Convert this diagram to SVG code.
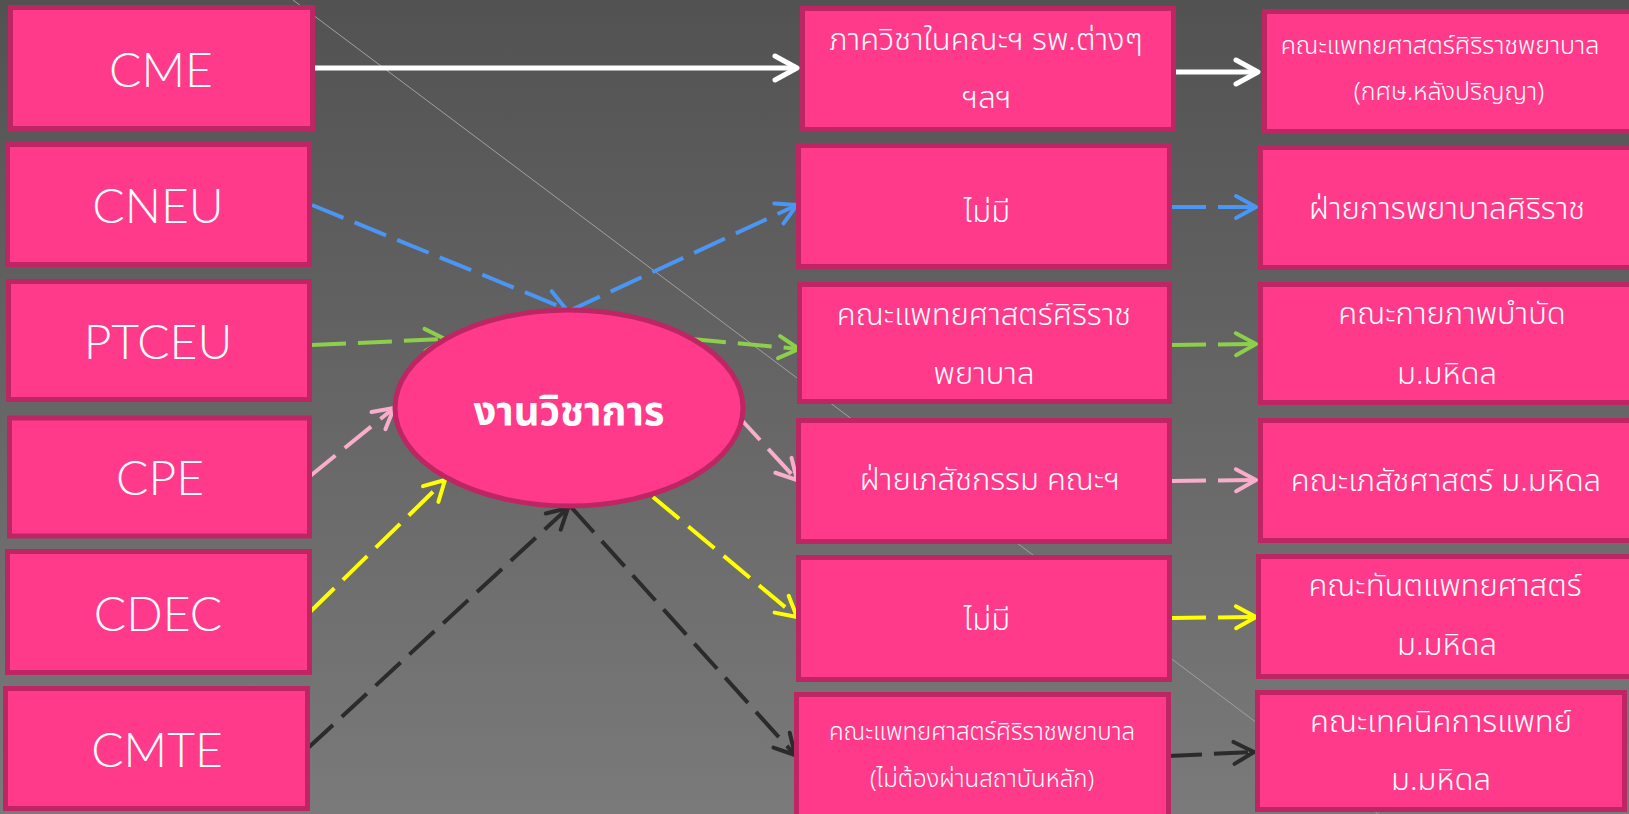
<svg xmlns="http://www.w3.org/2000/svg" width="1629" height="814" viewBox="0 0 1629 814">
<defs>
<linearGradient id="bg" x1="0" y1="0" x2="0" y2="1">
<stop offset="0" stop-color="#525252"/>
<stop offset="1" stop-color="#7a7a7a"/>
</linearGradient>
<marker id="aw" markerUnits="userSpaceOnUse" markerWidth="30" markerHeight="30" refX="0" refY="0" orient="auto" overflow="visible"><path d="M-22,-12 L0,0 L-22,12" fill="none" stroke="#ffffff" stroke-width="5" stroke-linecap="round" stroke-linejoin="round"/></marker>
<marker id="ab" markerUnits="userSpaceOnUse" markerWidth="30" markerHeight="30" refX="0" refY="0" orient="auto" overflow="visible"><path d="M-20,-11 L0,0 L-20,11" fill="none" stroke="#4a96f2" stroke-width="4" stroke-linecap="round" stroke-linejoin="round"/></marker>
<marker id="ag" markerUnits="userSpaceOnUse" markerWidth="30" markerHeight="30" refX="0" refY="0" orient="auto" overflow="visible"><path d="M-20,-11 L0,0 L-20,11" fill="none" stroke="#8dcf4a" stroke-width="4" stroke-linecap="round" stroke-linejoin="round"/></marker>
<marker id="ap" markerUnits="userSpaceOnUse" markerWidth="30" markerHeight="30" refX="0" refY="0" orient="auto" overflow="visible"><path d="M-20,-11 L0,0 L-20,11" fill="none" stroke="#f8aecb" stroke-width="4" stroke-linecap="round" stroke-linejoin="round"/></marker>
<marker id="ay" markerUnits="userSpaceOnUse" markerWidth="30" markerHeight="30" refX="0" refY="0" orient="auto" overflow="visible"><path d="M-20,-11 L0,0 L-20,11" fill="none" stroke="#ffff00" stroke-width="4" stroke-linecap="round" stroke-linejoin="round"/></marker>
<marker id="ak" markerUnits="userSpaceOnUse" markerWidth="30" markerHeight="30" refX="0" refY="0" orient="auto" overflow="visible"><path d="M-20,-11 L0,0 L-20,11" fill="none" stroke="#2b2b2b" stroke-width="4" stroke-linecap="round" stroke-linejoin="round"/></marker>
</defs>
<style>
.box{fill:#ff3a8a;stroke:#bd2662;stroke-width:5}
.en{font-family:Lato,"Open Sans",sans-serif;font-weight:300;font-size:48px;fill:#ffffff;text-anchor:middle}
.th{font-family:"Noto Sans Thai","Noto Sans","Noto Serif Thai",sans-serif;font-weight:300;fill:#ffffff;text-anchor:middle}
.l{font-size:31px}
.s{font-size:25px}
.xs{font-size:24px}
.c{fill:none;stroke-width:4;stroke-dasharray:34 12}
</style>
<rect width="1629" height="814" fill="url(#bg)"/>
<line x1="293" y1="0" x2="1629" y2="1002" stroke="#a0a0a0" stroke-width="1"/>

<g id="connectors">
<path d="M315,68 L797,68" fill="none" stroke="#ffffff" stroke-width="5" marker-end="url(#aw)"/>
<path d="M1176,72 L1258,72" fill="none" stroke="#ffffff" stroke-width="5" marker-end="url(#aw)"/>
<path class="c" d="M312,205 L566,309" stroke="#4a96f2" marker-end="url(#ab)"/>
<path class="c" d="M569,311 L797,205" stroke="#4a96f2" marker-end="url(#ab)"/>
<path class="c" d="M1172,207 L1256,207" stroke="#4a96f2" marker-end="url(#ab)"/>
<path class="c" d="M312,345 L445,339" stroke="#8dcf4a" marker-end="url(#ag)"/>
<path class="c" d="M692,339 L799,349" stroke="#8dcf4a" marker-end="url(#ag)"/>
<path class="c" d="M1172,345 L1256,344" stroke="#8dcf4a" marker-end="url(#ag)"/>
<path class="c" d="M309,477 L394,408" stroke="#f8aecb" marker-end="url(#ap)"/>
<path class="c" d="M737,415 L797,480" stroke="#f8aecb" marker-end="url(#ap)"/>
<path class="c" d="M1172,481 L1256,480" stroke="#f8aecb" marker-end="url(#ap)"/>
<path class="c" d="M310,612 L445,480" stroke="#ffff00" marker-end="url(#ay)"/>
<path class="c" d="M653,497 L797,617" stroke="#ffff00" marker-end="url(#ay)"/>
<path class="c" d="M1172,618 L1256,617" stroke="#ffff00" marker-end="url(#ay)"/>
<path class="c" d="M308,748 L568,508" stroke="#2b2b2b" marker-end="url(#ak)"/>
<path class="c" d="M571,507 L795,755" stroke="#2b2b2b" marker-end="url(#ak)"/>
<path class="c" d="M1168,756 L1254,752" stroke="#2b2b2b" marker-end="url(#ak)"/>
</g>

<g id="n-cme"><rect class="box" x="10.5" y="7.5" width="302" height="121"/><text class="en" x="161" y="87">CME</text></g>
<g id="n-cneu"><rect class="box" x="7.5" y="144.5" width="302" height="120"/><text class="en" x="158" y="223">CNEU</text></g>
<g id="n-ptceu"><rect class="box" x="8.5" y="281.5" width="301" height="118"/><text class="en" x="158" y="359">PTCEU</text></g>
<g id="n-cpe"><rect class="box" x="9.5" y="418" width="300" height="118"/><text class="en" x="160" y="495">CPE</text></g>
<g id="n-cdec"><rect class="box" x="7.5" y="551.5" width="302" height="121"/><text class="en" x="158" y="631">CDEC</text></g>
<g id="n-cmte"><rect class="box" x="5.5" y="688.5" width="302" height="120"/><text class="en" x="157" y="767">CMTE</text></g>

<g id="n-center"><ellipse cx="569" cy="408" rx="174" ry="98" fill="#ff3a8a" stroke="#bd2662" stroke-width="5"/><text x="569" y="425" font-family="'Noto Sans Thai','Noto Sans',sans-serif" font-weight="700" font-size="40" fill="#ffffff" text-anchor="middle">งานวิชาการ</text></g>

<g id="n-m1"><rect class="box" x="802.5" y="8.5" width="371" height="121"/><text class="th l" x="986" y="50">ภาควิชาในคณะฯ รพ.ต่างๆ</text><text class="th l" x="987" y="108">ฯลฯ</text></g>
<g id="n-m2"><rect class="box" x="798.5" y="145.5" width="371" height="121"/><text class="th l" x="987" y="222">ไม่มี</text></g>
<g id="n-m3"><rect class="box" x="799.5" y="284.5" width="370" height="117"/><text class="th l" x="984" y="325">คณะแพทยศาสตร์ศิริราช</text><text class="th l" x="984" y="384">พยาบาล</text></g>
<g id="n-m4"><rect class="box" x="798.5" y="420.5" width="371" height="121"/><text class="th l" x="990" y="490">ฝ่ายเภสัชกรรม คณะฯ</text></g>
<g id="n-m5"><rect class="box" x="798.5" y="557.5" width="371" height="122"/><text class="th l" x="987" y="630">ไม่มี</text></g>
<g id="n-m6"><rect class="box" x="796.5" y="694.5" width="372" height="125"/><text class="th xs" x="982" y="740">คณะแพทยศาสตร์ศิริราชพยาบาล</text><text class="th xs" x="982" y="787">(ไม่ต้องผ่านสถาบันหลัก)</text></g>

<g id="n-r1"><rect class="box" x="1264.5" y="11.5" width="375" height="120"/><text class="th s" x="1440" y="54">คณะแพทยศาสตร์ศิริราชพยาบาล</text><text class="th s" x="1449" y="100">(กศษ.หลังปริญญา)</text></g>
<g id="n-r2"><rect class="box" x="1260.5" y="147.5" width="379" height="120"/><text class="th l" x="1447" y="219">ฝ่ายการพยาบาลศิริราช</text></g>
<g id="n-r3"><rect class="box" x="1260.5" y="284.5" width="379" height="118"/><text class="th l" x="1452" y="324">คณะกายภาพบำบัด</text><text class="th l" x="1447" y="384">ม.มหิดล</text></g>
<g id="n-r4"><rect class="box" x="1260.5" y="420.5" width="379" height="120"/><text class="th l" x="1446" y="491">คณะเภสัชศาสตร์ ม.มหิดล</text></g>
<g id="n-r5"><rect class="box" x="1258.5" y="556.5" width="381" height="120"/><text class="th l" x="1445" y="596">คณะทันตแพทยศาสตร์</text><text class="th l" x="1447" y="655">ม.มหิดล</text></g>
<g id="n-r6"><rect class="box" x="1257.5" y="692.5" width="367" height="117"/><text class="th l" x="1441" y="732">คณะเทคนิคการแพทย์</text><text class="th l" x="1441" y="790">ม.มหิดล</text></g>
</svg>
